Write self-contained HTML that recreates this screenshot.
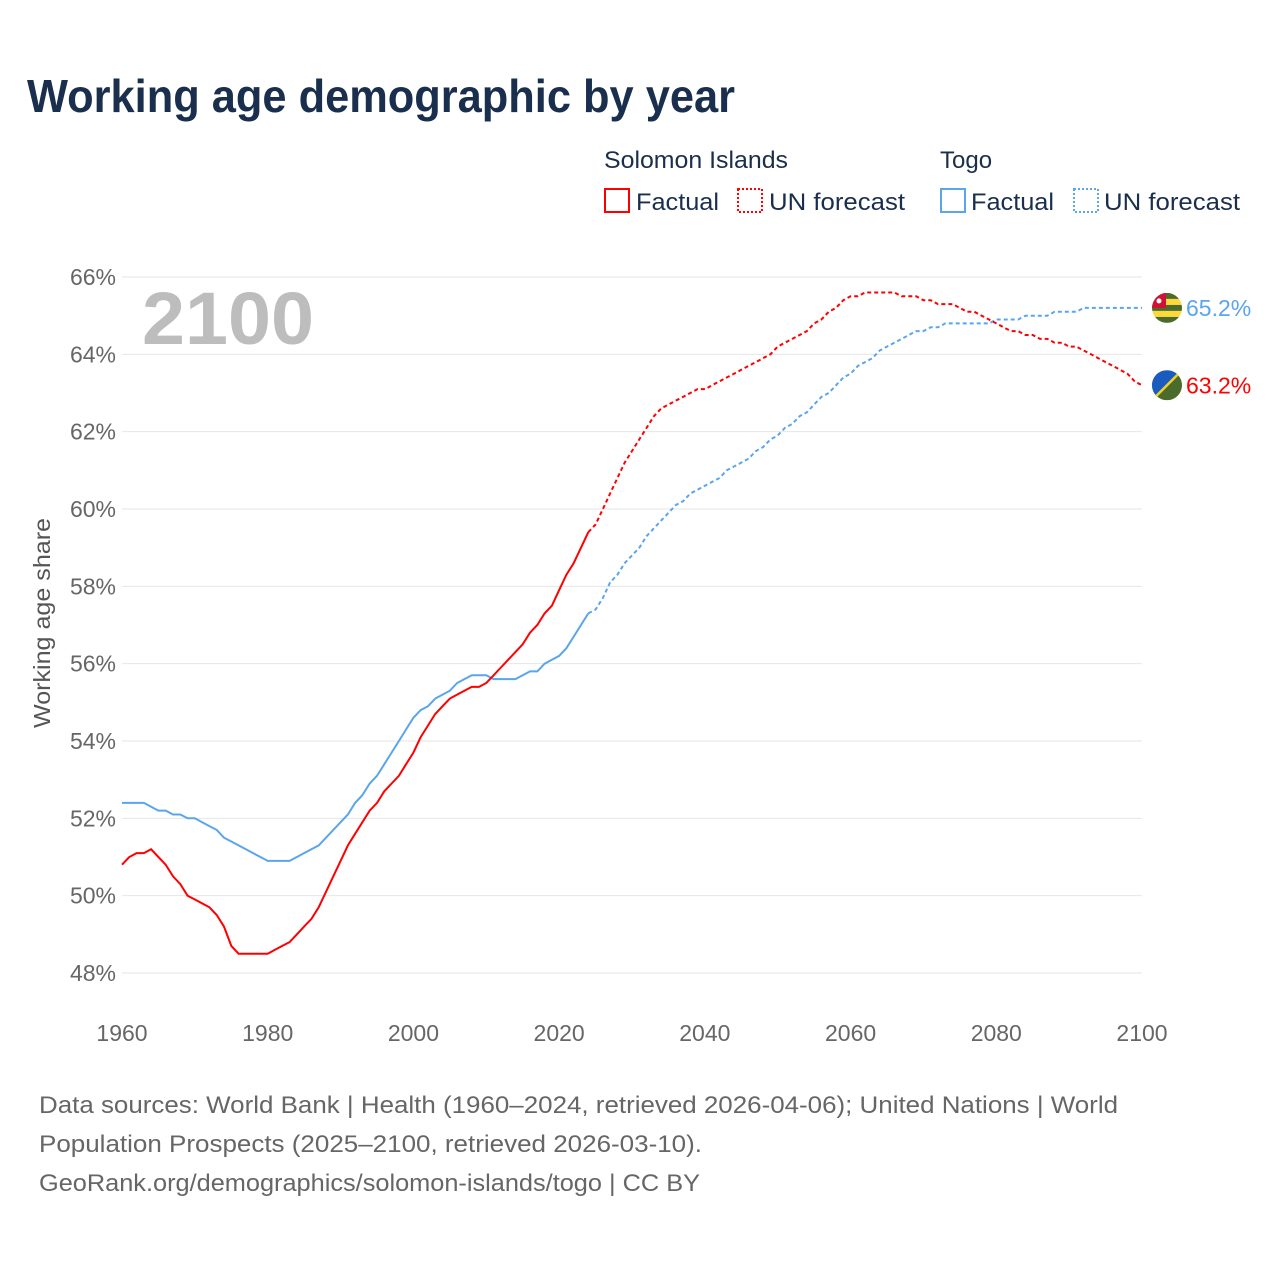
<!DOCTYPE html>
<html><head><meta charset="utf-8"><style>
body{margin:0;background:#fff;font-family:"Liberation Sans",sans-serif;}
#wrap{position:relative;width:1280px;height:1280px;overflow:hidden;}
</style></head><body>
<div id="wrap">
<svg id="svg" width="1280" height="1280" style="position:absolute;left:0;top:0">
<text x="27" y="112" font-size="46" font-weight="bold" fill="#1a2e4d" textLength="708" lengthAdjust="spacingAndGlyphs">Working age demographic by year</text>
<g font-size="24" fill="#1a2e4d">
<text x="604" y="168" textLength="184" lengthAdjust="spacingAndGlyphs">Solomon Islands</text>
<text x="940" y="168">Togo</text>
<g><rect x="605" y="189" width="24" height="23" fill="none" stroke="#f00" stroke-width="2"/><text x="636" y="210" textLength="83" lengthAdjust="spacingAndGlyphs">Factual</text></g>
<g><rect x="738" y="189" width="24" height="23" fill="none" stroke="#f00" stroke-width="2" stroke-dasharray="2,2"/><text x="769" y="210" textLength="136" lengthAdjust="spacingAndGlyphs">UN forecast</text></g>
<g><rect x="941" y="189" width="24" height="23" fill="none" stroke="#5aa5ec" stroke-width="2"/><text x="971" y="210" textLength="83" lengthAdjust="spacingAndGlyphs">Factual</text></g>
<g><rect x="1074" y="189" width="24" height="23" fill="none" stroke="#5aa5ec" stroke-width="2" stroke-dasharray="2,2"/><text x="1104" y="210" textLength="136" lengthAdjust="spacingAndGlyphs">UN forecast</text></g>
</g>
<text x="142" y="344" font-size="74" font-weight="bold" fill="#bdbdbd" textLength="172" lengthAdjust="spacingAndGlyphs">2100</text>
<text transform="translate(50,623) rotate(-90)" text-anchor="middle" font-size="23" fill="#555" textLength="210" lengthAdjust="spacingAndGlyphs">Working age share</text>
<g id="grid"></g><g id="lines"></g><g id="ends"></g>
<g font-size="24" fill="#666">
<text x="39" y="1113" textLength="1079" lengthAdjust="spacingAndGlyphs">Data sources: World Bank | Health (1960–2024, retrieved 2026-04-06); United Nations | World</text>
<text x="39" y="1152" textLength="663" lengthAdjust="spacingAndGlyphs">Population Prospects (2025–2100, retrieved 2026-03-10).</text>
<text x="39" y="1191" textLength="661" lengthAdjust="spacingAndGlyphs">GeoRank.org/demographics/solomon-islands/togo | CC BY</text>
</g>
</svg></div>
<script>
const yTicks=[48,50,52,54,56,58,60,62,64,66];
const xTicks=[1960,1980,2000,2020,2040,2060,2080,2100];
const startYear=1960;
const lastFactualYear=2024;
const solomon=[50.8,51.0,51.1,51.1,51.2,51.0,50.8,50.5,50.3,50.0,49.9,49.8,49.7,49.5,49.2,48.7,48.5,48.5,48.5,48.5,48.5,48.6,48.7,48.8,49.0,49.2,49.4,49.7,50.1,50.5,50.9,51.3,51.6,51.9,52.2,52.4,52.7,52.9,53.1,53.4,53.7,54.1,54.4,54.7,54.9,55.1,55.2,55.3,55.4,55.4,55.5,55.7,55.9,56.1,56.3,56.5,56.8,57.0,57.3,57.5,57.9,58.3,58.6,59.0,59.4,
59.6,60.0,60.4,60.8,61.2,61.5,61.8,62.1,62.4,62.6,62.7,62.8,62.9,63.0,63.1,63.1,63.2,63.3,63.4,63.5,63.6,63.7,63.8,63.9,64.0,64.2,64.3,64.4,64.5,64.6,64.8,64.9,65.1,65.2,65.4,65.5,65.5,65.6,65.6,65.6,65.6,65.6,65.5,65.5,65.5,65.4,65.4,65.3,65.3,65.3,65.2,65.1,65.1,65.0,64.9,64.8,64.7,64.6,64.6,64.5,64.5,64.4,64.4,64.3,64.3,64.2,64.2,64.1,64.0,63.9,63.8,63.7,63.6,63.5,63.3,63.2];
const togo=[52.4,52.4,52.4,52.4,52.3,52.2,52.2,52.1,52.1,52.0,52.0,51.9,51.8,51.7,51.5,51.4,51.3,51.2,51.1,51.0,50.9,50.9,50.9,50.9,51.0,51.1,51.2,51.3,51.5,51.7,51.9,52.1,52.4,52.6,52.9,53.1,53.4,53.7,54.0,54.3,54.6,54.8,54.9,55.1,55.2,55.3,55.5,55.6,55.7,55.7,55.7,55.6,55.6,55.6,55.6,55.7,55.8,55.8,56.0,56.1,56.2,56.4,56.7,57.0,57.3,
57.4,57.7,58.1,58.3,58.6,58.8,59.0,59.3,59.5,59.7,59.9,60.1,60.2,60.4,60.5,60.6,60.7,60.8,61.0,61.1,61.2,61.3,61.5,61.6,61.8,61.9,62.1,62.2,62.4,62.5,62.7,62.9,63.0,63.2,63.4,63.5,63.7,63.8,63.9,64.1,64.2,64.3,64.4,64.5,64.6,64.6,64.7,64.7,64.8,64.8,64.8,64.8,64.8,64.8,64.8,64.9,64.9,64.9,64.9,65.0,65.0,65.0,65.0,65.1,65.1,65.1,65.1,65.2,65.2,65.2,65.2,65.2,65.2,65.2,65.2,65.2];
const NS="http://www.w3.org/2000/svg";
const X=y=>122+(y-1960)*(1020/140);
const Y=v=>973-(v-48)*(696/18);
function mk(t,a,p){const e=document.createElementNS(NS,t);for(const k in a)e.setAttribute(k,a[k]);p.appendChild(e);return e;}
const grid=document.getElementById('grid');
yTicks.forEach(v=>{
 const l=mk('line',{x1:122,x2:1142,y1:Y(v),y2:Y(v),stroke:'#e6e6e6','stroke-width':1},grid);
 
 
 const t=mk('text',{x:116,y:Y(v)+8,'text-anchor':'end','font-size':23,fill:'#666'},grid);t.textContent=v+'%';
 
 
});
xTicks.forEach(v=>{
 const t=mk('text',{x:X(v),y:1041,'text-anchor':'middle','font-size':23,fill:'#666'},grid);t.textContent=v;
 
 
});
const lines=document.getElementById('lines');
function path(arr,i0,i1){let d='';for(let i=i0;i<=i1;i++)d+=(i==i0?'M':'L')+X(startYear+i).toFixed(1)+','+Y(arr[i]).toFixed(1);return d;}
const fi=lastFactualYear-startYear;
[[togo,'#5aa5ec','togo'],[solomon,'#f00','solomon']].forEach(([arr,c,n])=>{
 const a=mk('path',{d:path(arr,0,fi),fill:'none',stroke:c,'stroke-width':2},lines);
 
 
 const b=mk('path',{d:path(arr,fi,arr.length-1),fill:'none',stroke:c,'stroke-width':2,'stroke-dasharray':'4,3'},lines);
 
 
});
const ends=document.getElementById('ends');
function endLabel(arr,c,n){
 const v=arr[arr.length-1],y=Y(v);
 const g=mk('g',{},ends);
 
 
 const cx=1167;
 if(n==='togo'){
  mk('clipPath',{id:'ct'},g);const cp=g.lastChild;mk('circle',{cx:cx,cy:y,r:15},cp);
  const gg=mk('g',{'clip-path':'url(#ct)'},g);
  for(let k=0;k<5;k++)mk('rect',{x:cx-15,y:y-15+k*6,width:30,height:6,fill:k%2?'#ffd83a':'#4a6b2c'},gg);
  mk('rect',{x:cx-15,y:y-15,width:14,height:15,fill:'#d21034'},gg);
  mk('circle',{cx:cx-8,cy:y-7,r:2.5,fill:'#fff'},gg);
 } else {
  mk('clipPath',{id:'cs'},g);const cp=g.lastChild;mk('circle',{cx:cx,cy:y,r:15},cp);
  const gg=mk('g',{'clip-path':'url(#cs)'},g);
  mk('rect',{x:cx-15,y:y-15,width:30,height:30,fill:'#4a6b2c'},gg);
  mk('polygon',{points:`${cx-15},${y-15} ${cx+15},${y-15} ${cx-15},${y+15}`,fill:'#1a5bbf'},gg);
  mk('line',{x1:cx+15,y1:y-15,x2:cx-15,y2:y+15,stroke:'#f2d02c','stroke-width':2.5},gg);
 }
 const t=mk('text',{x:1186,y:y+8,'font-size':23,fill:c},ends);t.textContent=v.toFixed(1)+'%';
 
 
}
endLabel(togo,'#5aa5ec','togo');
endLabel(solomon,'#f00','solomon');
</script>
</body></html>
